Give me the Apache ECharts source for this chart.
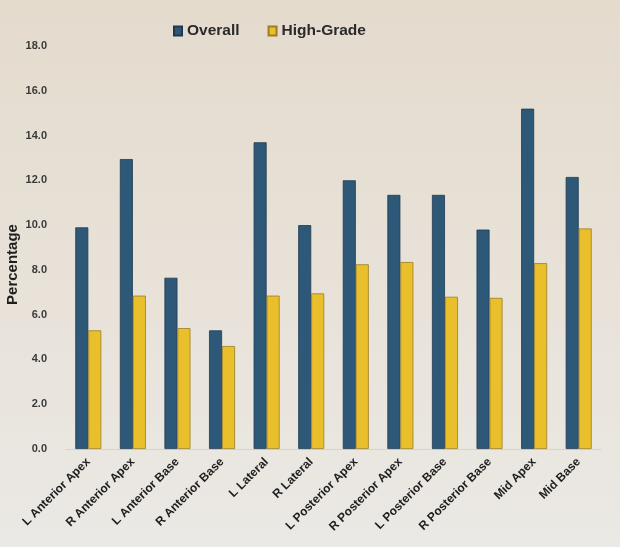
<!DOCTYPE html>
<html>
<head>
<meta charset="utf-8">
<script src="https://cdn.jsdelivr.net/npm/echarts@6/dist/echarts.min.js"></script>
<style>
  html, body { margin: 0; padding: 0; background: #e7e0d5; }
  #chart { width: 620px; height: 547px; }
</style>
</head>
<body>
<div id="chart"></div>
<script>
// sector labels
const regions = ['L Anterior Apex', 'R Anterior Apex', 'L Anterior Base', 'R Anterior Base',
  'L Lateral', 'R Lateral', 'L Posterior Apex', 'R Posterior Apex',
  'L Posterior Base', 'R Posterior Base', 'Mid Apex', 'Mid Base'];
// percentages
const overall = [9.9, 12.95, 7.65, 5.3, 13.7, 10.0, 12.0, 11.35, 11.35, 9.8, 15.2, 12.15];
const highGrade = [5.3, 6.85, 5.4, 4.6, 6.85, 6.95, 8.25, 8.35, 6.8, 6.75, 8.3, 9.85];

const chart = echarts.init(document.getElementById('chart'));
const option = {
  backgroundColor: {
    type: 'linear', x: 0, y: 0, x2: 0, y2: 1,
    colorStops: [
      {offset: 0, color: '#e4dbcd'},
      {offset: 0.55, color: '#e8e2d9'},
      {offset: 1, color: '#ebe9e5'}
    ]
  },
  animation: false,
  textStyle: {fontFamily: 'Liberation Sans, Arial, sans-serif'},
  legend: {
    top: 18,
    left: 168,
    icon: 'rect',
    itemWidth: 8,
    itemHeight: 9,
    itemGap: 28,
    textStyle: {fontSize: 15.5, fontWeight: 'bold', color: '#2a2a2a'},
    data: ['Overall', 'High-Grade']
  },
  grid: {left: 66, right: 19, top: 46, bottom: 98, outerBoundsMode: 'none'},
  xAxis: {
    type: 'category',
    data: regions,
    axisLine: {lineStyle: {color: '#d6d2cc'}},
    axisTick: {show: false},
    axisLabel: {
      rotate: 45,
      interval: 0,
      margin: 11,
      fontSize: 12,
      fontWeight: 'bold',
      color: '#1e1e1e'
    }
  },
  yAxis: {
    type: 'value',
    min: 0,
    max: 18,
    interval: 2,
    name: 'Percentage',
    nameLocation: 'middle',
    nameGap: 46,
    nameMoveOverlap: false,
    nameTextStyle: {fontSize: 15, fontWeight: 'bold', color: '#1e1e1e', padding: [0, 34, 0, 0]},
    axisLine: {show: false},
    axisTick: {show: false},
    splitLine: {show: false},
    axisLabel: {
      fontSize: 11,
      fontWeight: 'bold',
      color: '#3a3a3a',
      margin: 19,
      formatter: v => v.toFixed(1)
    }
  },
  series: [
    {
      name: 'Overall',
      type: 'bar',
      data: overall,
      barWidth: 13,
      barGap: '0%',
      itemStyle: {color: '#2e5878', borderColor: '#1f3a50', borderWidth: 0.8}
    },
    {
      name: 'High-Grade',
      type: 'bar',
      data: highGrade,
      barWidth: 13,
      itemStyle: {color: '#e9bf2c', borderColor: '#9a7d24', borderWidth: 0.8}
    }
  ]
};
chart.setOption(option);
</script>
</body>
</html>
